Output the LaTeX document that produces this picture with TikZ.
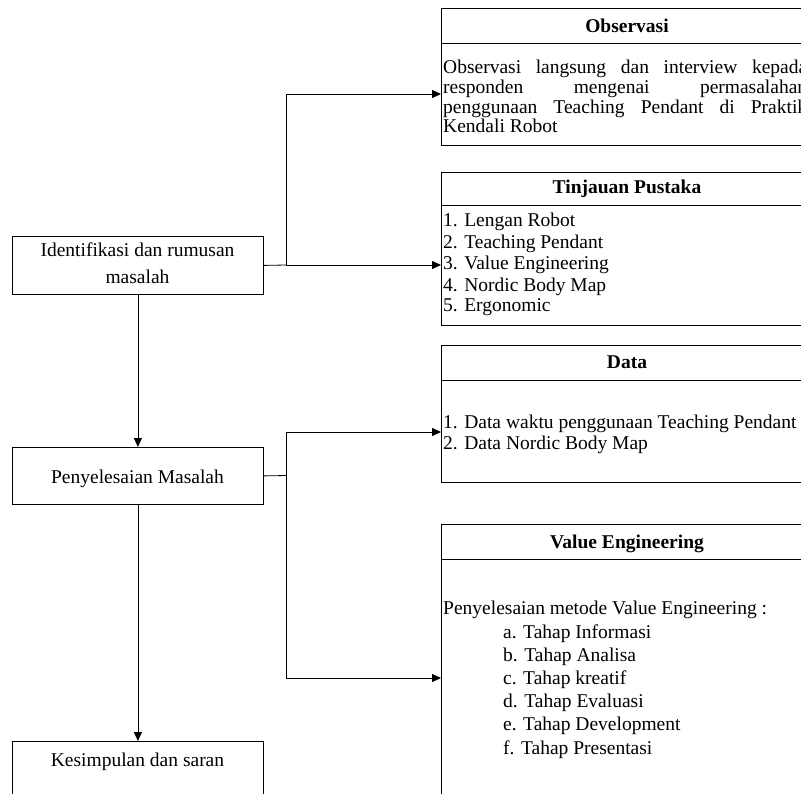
\documentclass[tikz,border=0pt]{standalone}
\usepackage{fontspec}
\setmainfont{Liberation Serif}
\usetikzlibrary{arrows.meta}
\newcommand{\fsz}{\fontsize{19.5}{22}\selectfont}
\begin{document}
\begin{tikzpicture}[x=1pt,y=-1pt,
  box/.style={draw, line width=0.8pt, rectangle, inner sep=0pt, anchor=north west},
  txt/.style={anchor=base west, inner sep=0pt, font=\fsz},
  ctxt/.style={anchor=base, inner sep=0pt, font=\fsz},
  ttl/.style={anchor=base, inner sep=0pt, font=\fsz\bfseries},
  conn/.style={line width=0.8pt},
  arr/.style={conn, -{Triangle[length=9pt,width=8pt]}}]
\useasboundingbox (0,0) rectangle (801,793);
\clip (0,0) rectangle (801,793);
% right boxes
\node[box, minimum width=372pt, minimum height=137pt] (obs) at (441,8) {};
\draw[conn] (441,43) -- (813,43);
\node[box, minimum width=372pt, minimum height=153pt] (tp) at (441,172) {};
\draw[conn] (441,205) -- (813,205);
\node[box, minimum width=372pt, minimum height=137pt] (data) at (441,345) {};
\draw[conn] (441,380) -- (813,380);
\node[box, minimum width=372pt, minimum height=290pt] (ve) at (441,524) {};
\draw[conn] (441,559) -- (813,559);
% left boxes
\node[box, minimum width=251pt, minimum height=58pt] (id) at (12,236) {};
\node[box, minimum width=251pt, minimum height=57pt] (pm) at (12,447) {};
\node[box, minimum width=251pt, minimum height=70pt] (ks) at (12,741) {};
% titles
\node[ttl] (tobs) at (627,32) {Observasi};
\node[ttl] (ttp) at (627,193) {Tinjauan Pustaka};
\node[ttl] (tdata) at (627,368) {Data};
\node[ttl] (tve) at (627,548) {Value Engineering};
% observasi text
\node[txt] (o1) at (443,73) {\makebox[364pt][s]{Observasi langsung dan interview kepada}};
\node[txt] (o2) at (443,93) {\makebox[364pt][s]{responden mengenai permasalahan}};
\node[txt] (o3) at (443,113) {\makebox[364pt][s]{penggunaan Teaching Pendant di Praktik}};
\node[txt] (o4) at (443,132) {Kendali Robot};
% tinjauan
\node[txt] (p1) at (443,226) {1. Lengan Robot};
\node[txt] (p2) at (443,248) {2. Teaching Pendant};
\node[txt] (p3) at (443,269) {3. Value Engineering};
\node[txt] (p4) at (443,291) {4. Nordic Body Map};
\node[txt] (p5) at (443,311) {5. Ergonomic};
% data
\node[txt] (d1) at (443,428) {1. Data waktu penggunaan Teaching Pendant};
\node[txt] (d2) at (443,449) {2. Data Nordic Body Map};
% value engineering
\node[txt] (v0) at (443,614) {Penyelesaian metode Value Engineering :};
\node[txt] (va) at (503,638) {a. Tahap Informasi};
\node[txt] (vb) at (503,661) {b. Tahap Analisa};
\node[txt] (vc) at (503,684) {c. Tahap kreatif};
\node[txt] (vd) at (503,707) {d. Tahap Evaluasi};
\node[txt] (vee) at (503,730) {e. Tahap Development};
\node[txt] (vf) at (503,754) {f. Tahap Presentasi};
% left texts
\node[ctxt] (i1) at (137.5,256) {Identifikasi dan rumusan};
\node[ctxt] (i2) at (137.5,283) {masalah};
\node[ctxt] (pmt) at (137.5,483) {Penyelesaian Masalah};
\node[ctxt] (kst) at (137.5,766) {Kesimpulan dan saran};
% connectors
\coordinate (jA) at (286,265);
\coordinate (jObs) at (441,94);
\coordinate (jB) at (286,475.5);
\coordinate (jData) at (441,432);
\coordinate (jVe) at (441,678);
\draw[conn] (id.east) -- (jA);
\draw[arr] (jA) -- (tp.west |- jA);
\draw[arr] (jA) |- (jObs);
\draw[arr] (id.south) -- (pm.north);
\draw[conn] (pm.east) -- (jB);
\draw[arr] (jB) |- (jData);
\draw[arr] (jB) |- (jVe);
\draw[arr] (pm.south) -- (ks.north);
\end{tikzpicture}
\end{document}
